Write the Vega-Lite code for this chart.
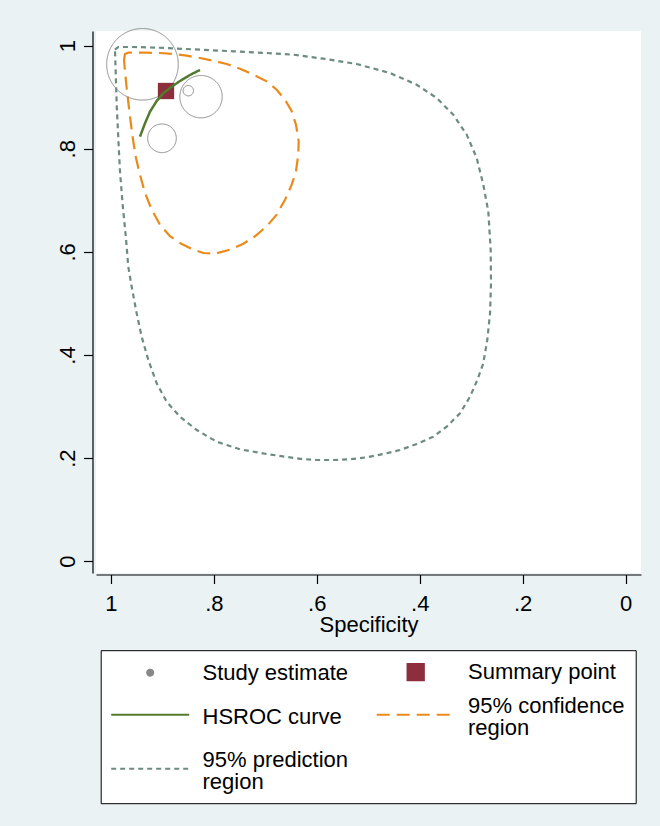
{
  "$schema": "https://vega.github.io/schema/vega-lite/v6.json",
  "width": 545,
  "height": 542,
  "autosize": {"type": "none"},
  "padding": {"left": 96, "top": 31, "right": 19, "bottom": 253},
  "background": "#EAF2F3",
  "config": {
    "font": "Liberation Sans",
    "view": {"stroke": null, "fill": "white"},
    "style": {"guide-label": {"lineHeight": 11}}
  },
  "datasets": {
    "pts": [
      {"series": "Study estimate", "spec": 0.9386, "sens": 0.9639, "weight": 100},
      {"series": "Study estimate", "spec": 0.8496, "sens": 0.9127, "weight": 2.1},
      {"series": "Study estimate", "spec": 0.8249, "sens": 0.9011, "weight": 35},
      {"series": "Study estimate", "spec": 0.9007, "sens": 0.8204, "weight": 16}
    ],
    "sum": [
      {"series": "Summary point", "spec": 0.8929, "sens": 0.9121}
    ],
    "hsroc": [
      {"series": "HSROC curve", "i": 1, "spec": 0.9435, "sens": 0.8235},
      {"series": "HSROC curve", "i": 2, "spec": 0.9337, "sens": 0.8495},
      {"series": "HSROC curve", "i": 3, "spec": 0.9240, "sens": 0.8720},
      {"series": "HSROC curve", "i": 4, "spec": 0.9110, "sens": 0.8927},
      {"series": "HSROC curve", "i": 5, "spec": 0.8982, "sens": 0.9077},
      {"series": "HSROC curve", "i": 6, "spec": 0.8819, "sens": 0.9205},
      {"series": "HSROC curve", "i": 7, "spec": 0.8657, "sens": 0.9315},
      {"series": "HSROC curve", "i": 8, "spec": 0.8463, "sens": 0.9432},
      {"series": "HSROC curve", "i": 9, "spec": 0.8269, "sens": 0.9529}
    ],
    "conf": [
      {"series": "95% confidence region", "i": 1, "spec": 0.9745, "sens": 0.9728},
      {"series": "95% confidence region", "i": 2, "spec": 0.9726, "sens": 0.9839},
      {"series": "95% confidence region", "i": 3, "spec": 0.9662, "sens": 0.9864},
      {"series": "95% confidence region", "i": 4, "spec": 0.9565, "sens": 0.9864},
      {"series": "95% confidence region", "i": 5, "spec": 0.9304, "sens": 0.9864},
      {"series": "95% confidence region", "i": 6, "spec": 0.9046, "sens": 0.9858},
      {"series": "95% confidence region", "i": 7, "spec": 0.8788, "sens": 0.9839},
      {"series": "95% confidence region", "i": 8, "spec": 0.8527, "sens": 0.9806},
      {"series": "95% confidence region", "i": 9, "spec": 0.8269, "sens": 0.9761},
      {"series": "95% confidence region", "i": 10, "spec": 0.8010, "sens": 0.9709},
      {"series": "95% confidence region", "i": 11, "spec": 0.7750, "sens": 0.9645},
      {"series": "95% confidence region", "i": 12, "spec": 0.7492, "sens": 0.9554},
      {"series": "95% confidence region", "i": 13, "spec": 0.7233, "sens": 0.9437},
      {"series": "95% confidence region", "i": 14, "spec": 0.6973, "sens": 0.9309},
      {"series": "95% confidence region", "i": 15, "spec": 0.6779, "sens": 0.9146},
      {"series": "95% confidence region", "i": 16, "spec": 0.6617, "sens": 0.8952},
      {"series": "95% confidence region", "i": 17, "spec": 0.6487, "sens": 0.8727},
      {"series": "95% confidence region", "i": 18, "spec": 0.6404, "sens": 0.8468},
      {"series": "95% confidence region", "i": 19, "spec": 0.6351, "sens": 0.8145},
      {"series": "95% confidence region", "i": 20, "spec": 0.6359, "sens": 0.7886},
      {"series": "95% confidence region", "i": 21, "spec": 0.6404, "sens": 0.7564},
      {"series": "95% confidence region", "i": 22, "spec": 0.6487, "sens": 0.7304},
      {"series": "95% confidence region", "i": 23, "spec": 0.6617, "sens": 0.7013},
      {"series": "95% confidence region", "i": 24, "spec": 0.6779, "sens": 0.6722},
      {"series": "95% confidence region", "i": 25, "spec": 0.6973, "sens": 0.6497},
      {"series": "95% confidence region", "i": 26, "spec": 0.7200, "sens": 0.6303},
      {"series": "95% confidence region", "i": 27, "spec": 0.7428, "sens": 0.6159},
      {"series": "95% confidence region", "i": 28, "spec": 0.7686, "sens": 0.6043},
      {"series": "95% confidence region", "i": 29, "spec": 0.7977, "sens": 0.5965},
      {"series": "95% confidence region", "i": 30, "spec": 0.8205, "sens": 0.5979},
      {"series": "95% confidence region", "i": 31, "spec": 0.8399, "sens": 0.6043},
      {"series": "95% confidence region", "i": 32, "spec": 0.8624, "sens": 0.6153},
      {"series": "95% confidence region", "i": 33, "spec": 0.8852, "sens": 0.6303},
      {"series": "95% confidence region", "i": 34, "spec": 0.9046, "sens": 0.6528},
      {"series": "95% confidence region", "i": 35, "spec": 0.9207, "sens": 0.6819},
      {"series": "95% confidence region", "i": 36, "spec": 0.9337, "sens": 0.7143},
      {"series": "95% confidence region", "i": 37, "spec": 0.9435, "sens": 0.7498},
      {"series": "95% confidence region", "i": 38, "spec": 0.9512, "sens": 0.7822},
      {"series": "95% confidence region", "i": 39, "spec": 0.9565, "sens": 0.8145},
      {"series": "95% confidence region", "i": 40, "spec": 0.9609, "sens": 0.8468},
      {"series": "95% confidence region", "i": 41, "spec": 0.9648, "sens": 0.8791},
      {"series": "95% confidence region", "i": 42, "spec": 0.9693, "sens": 0.9179},
      {"series": "95% confidence region", "i": 43, "spec": 0.9726, "sens": 0.9503},
      {"series": "95% confidence region", "i": 44, "spec": 0.9745, "sens": 0.9728}
    ],
    "pred": [
      {"series": "95% prediction region", "i": 1, "spec": 0.9920, "sens": 0.9922},
      {"series": "95% prediction region", "i": 2, "spec": 0.9856, "sens": 0.9975},
      {"series": "95% prediction region", "i": 3, "spec": 0.9565, "sens": 0.9975},
      {"series": "95% prediction region", "i": 4, "spec": 0.8916, "sens": 0.9955},
      {"series": "95% prediction region", "i": 5, "spec": 0.8269, "sens": 0.9922},
      {"series": "95% prediction region", "i": 6, "spec": 0.7622, "sens": 0.9891},
      {"series": "95% prediction region", "i": 7, "spec": 0.6973, "sens": 0.9858},
      {"series": "95% prediction region", "i": 8, "spec": 0.6456, "sens": 0.9825},
      {"series": "95% prediction region", "i": 9, "spec": 0.5873, "sens": 0.9748},
      {"series": "95% prediction region", "i": 10, "spec": 0.5224, "sens": 0.9645},
      {"series": "95% prediction region", "i": 11, "spec": 0.4577, "sens": 0.9470},
      {"series": "95% prediction region", "i": 12, "spec": 0.4059, "sens": 0.9243},
      {"series": "95% prediction region", "i": 13, "spec": 0.3670, "sens": 0.8985},
      {"series": "95% prediction region", "i": 14, "spec": 0.3348, "sens": 0.8661},
      {"series": "95% prediction region", "i": 15, "spec": 0.3087, "sens": 0.8274},
      {"series": "95% prediction region", "i": 16, "spec": 0.2893, "sens": 0.7822},
      {"series": "95% prediction region", "i": 17, "spec": 0.2765, "sens": 0.7304},
      {"series": "95% prediction region", "i": 18, "spec": 0.2668, "sens": 0.6788},
      {"series": "95% prediction region", "i": 19, "spec": 0.2621, "sens": 0.6037},
      {"series": "95% prediction region", "i": 20, "spec": 0.2615, "sens": 0.5391},
      {"series": "95% prediction region", "i": 21, "spec": 0.2634, "sens": 0.4809},
      {"series": "95% prediction region", "i": 22, "spec": 0.2687, "sens": 0.4291},
      {"series": "95% prediction region", "i": 23, "spec": 0.2765, "sens": 0.3839},
      {"series": "95% prediction region", "i": 24, "spec": 0.2881, "sens": 0.3515},
      {"series": "95% prediction region", "i": 25, "spec": 0.3023, "sens": 0.3191},
      {"series": "95% prediction region", "i": 26, "spec": 0.3217, "sens": 0.2869},
      {"series": "95% prediction region", "i": 27, "spec": 0.3476, "sens": 0.2609},
      {"series": "95% prediction region", "i": 28, "spec": 0.3736, "sens": 0.2415},
      {"series": "95% prediction region", "i": 29, "spec": 0.4059, "sens": 0.2273},
      {"series": "95% prediction region", "i": 30, "spec": 0.4383, "sens": 0.2157},
      {"series": "95% prediction region", "i": 31, "spec": 0.4708, "sens": 0.2079},
      {"series": "95% prediction region", "i": 32, "spec": 0.5030, "sens": 0.2015},
      {"series": "95% prediction region", "i": 33, "spec": 0.5355, "sens": 0.1977},
      {"series": "95% prediction region", "i": 34, "spec": 0.5679, "sens": 0.1963},
      {"series": "95% prediction region", "i": 35, "spec": 0.6002, "sens": 0.1963},
      {"series": "95% prediction region", "i": 36, "spec": 0.6326, "sens": 0.1986},
      {"series": "95% prediction region", "i": 37, "spec": 0.6973, "sens": 0.2079},
      {"series": "95% prediction region", "i": 38, "spec": 0.7492, "sens": 0.2171},
      {"series": "95% prediction region", "i": 39, "spec": 0.7944, "sens": 0.2318},
      {"series": "95% prediction region", "i": 40, "spec": 0.8333, "sens": 0.2545},
      {"series": "95% prediction region", "i": 41, "spec": 0.8657, "sens": 0.2803},
      {"series": "95% prediction region", "i": 42, "spec": 0.8916, "sens": 0.3094},
      {"series": "95% prediction region", "i": 43, "spec": 0.9110, "sens": 0.3451},
      {"series": "95% prediction region", "i": 44, "spec": 0.9273, "sens": 0.3903},
      {"series": "95% prediction region", "i": 45, "spec": 0.9402, "sens": 0.4355},
      {"series": "95% prediction region", "i": 46, "spec": 0.9499, "sens": 0.4809},
      {"series": "95% prediction region", "i": 47, "spec": 0.9596, "sens": 0.5325},
      {"series": "95% prediction region", "i": 48, "spec": 0.9662, "sens": 0.5713},
      {"series": "95% prediction region", "i": 49, "spec": 0.9707, "sens": 0.6270},
      {"series": "95% prediction region", "i": 50, "spec": 0.9771, "sens": 0.6916},
      {"series": "95% prediction region", "i": 51, "spec": 0.9823, "sens": 0.7564},
      {"series": "95% prediction region", "i": 52, "spec": 0.9856, "sens": 0.8210},
      {"series": "95% prediction region", "i": 53, "spec": 0.9887, "sens": 0.8856},
      {"series": "95% prediction region", "i": 54, "spec": 0.9907, "sens": 0.9503},
      {"series": "95% prediction region", "i": 55, "spec": 0.9920, "sens": 0.9922}
    ]
  },
  "encoding": {
    "x": {
      "field": "spec",
      "type": "quantitative",
      "scale": {"domain": [-0.0299, 1.0289], "reverse": true, "nice": false, "zero": false},
      "axis": {
        "values": [0, 0.2, 0.4, 0.6, 0.8, 1],
        "labelExpr": "datum.value == 0 ? '0' : datum.value == 1 ? '1' : replace(format(datum.value, '.1f'), '0.', '.')",
        "title": "Specificity",
        "grid": false,
        "offset": 1.5,
        "tickSize": 9,
        "tickWidth": 1.2,
        "domainWidth": 1.2,
        "domainColor": "#000000",
        "tickColor": "#000000",
        "labelColor": "#000000",
        "titleColor": "#000000",
        "labelFontSize": 22,
        "titleFontSize": 22,
        "titleFontWeight": "normal",
        "labelPadding": 9.5,
        "titlePadding": 0,
        "labelFlush": false,
        "labelOverlap": false
      }
    },
    "y": {
      "field": "sens",
      "type": "quantitative",
      "scale": {"domain": [-0.0229, 1.0285], "nice": false, "zero": false},
      "axis": {
        "values": [0, 0.2, 0.4, 0.6, 0.8, 1],
        "labelExpr": "datum.value == 0 ? '0' : datum.value == 1 ? '1' : replace(format(datum.value, '.1f'), '0.', '.')",
        "title": null,
        "grid": false,
        "offset": 3.5,
        "tickSize": 9,
        "tickWidth": 1.2,
        "domainWidth": 1.2,
        "domainColor": "#000000",
        "tickColor": "#000000",
        "labelColor": "#000000",
        "labelFontSize": 22,
        "labelAngle": 270,
        "labelAlign": "center",
        "labelBaseline": "alphabetic",
        "labelPadding": 9.5,
        "labelFlush": false,
        "labelOverlap": false
      }
    },
    "color": {
      "field": "series",
      "type": "nominal",
      "scale": {
        "domain": ["Study estimate", "Summary point", "HSROC curve", "95% confidence region", "95% prediction region"],
        "range": ["#888888", "#8C2E3B", "#537B2F", "#EB8A1B", "#6D8B7F"]
      },
      "legend": {
        "title": null,
        "orient": "none",
        "legendX": 4.7,
        "legendY": 619.2,
        "direction": "horizontal",
        "columns": 2,
        "columnPadding": 24.5,
        "rowPadding": 10,
        "padding": 10.5,
        "fillColor": "#FFFFFF",
        "strokeColor": "#000000",
        "symbolSize": 400,
        "symbolStrokeWidth": 2,
        "symbolOffset": 28,
        "labelOffset": 41.3,
        "labelFontSize": 22,
        "labelColor": "#000000",
        "labelLimit": 400,
        "labelExpr": "datum.label == '95% confidence region' ? ['95% confidence', '\u2800', 'region'] : datum.label == '95% prediction region' ? ['95% prediction', '\u2800', 'region'] : datum.label == 'HSROC curve' ? ['\u2800', 'HSROC curve'] : datum.label"
      }
    },
    "strokeDash": {
      "field": "series",
      "type": "nominal",
      "scale": {
        "domain": ["Study estimate", "Summary point", "HSROC curve", "95% confidence region", "95% prediction region"],
        "range": [[1, 0], [1, 0], [1, 0], [13, 7], [5, 4]]
      }
    }
  },
  "layer": [
    {
      "data": {"name": "pred"},
      "mark": {"type": "line", "strokeWidth": 2.2},
      "encoding": {"order": {"field": "i", "type": "quantitative"}}
    },
    {
      "data": {"name": "conf"},
      "mark": {"type": "line", "strokeWidth": 2.2},
      "encoding": {"order": {"field": "i", "type": "quantitative"}}
    },
    {
      "data": {"name": "pts"},
      "mark": {"type": "point", "filled": false, "shape": "circle", "strokeWidth": 1, "opacity": 1},
      "encoding": {
        "size": {"field": "weight", "type": "quantitative", "scale": {"domain": [0, 100], "range": [0, 5127]}, "legend": null}
      }
    },
    {
      "data": {"name": "sum"},
      "mark": {"type": "point", "filled": true, "size": 400, "opacity": 1},
      "encoding": {
        "shape": {
          "field": "series",
          "type": "nominal",
          "scale": {
            "domain": ["Study estimate", "Summary point", "HSROC curve", "95% confidence region", "95% prediction region"],
            "range": ["M0.3,0A0.3,0.3,0,1,1,-0.3,0A0.3,0.3,0,1,1,0.3,0Z", "M-0.815,-0.815H0.815V0.815H-0.815Z", "M-3.9,0.9H3.9", "M-3.9,0.9H3.9", "M-3.9,0.9H3.9"]
          }
        }
      }
    },
    {
      "data": {"name": "hsroc"},
      "mark": {"type": "line", "strokeWidth": 2.5},
      "encoding": {"order": {"field": "i", "type": "quantitative"}}
    }
  ]
}
